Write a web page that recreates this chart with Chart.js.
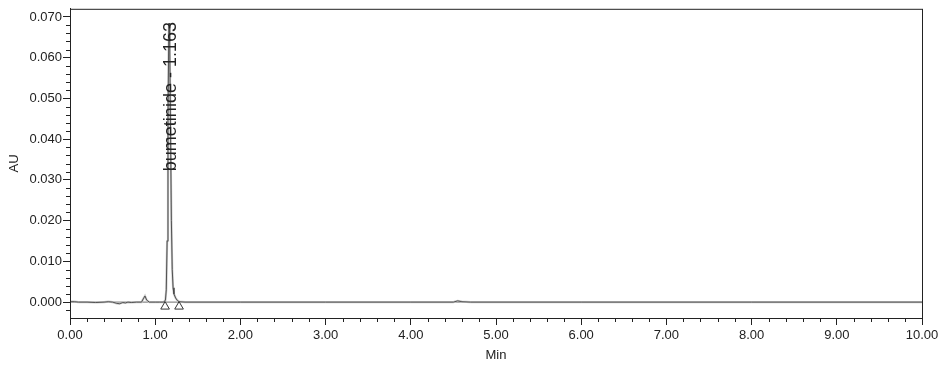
<!DOCTYPE html>
<html>
<head>
<meta charset="utf-8">
<title>bumetinide chromatogram</title>
<script src="https://cdn.jsdelivr.net/npm/chart.js@4"></script>
<style>
  html, body { margin: 0; padding: 0; background: #fff; }
  #wrap { width: 944px; height: 366px; }
</style>
</head>
<body>
<div id="wrap"><canvas id="chart" width="944" height="366"></canvas></div>
<script>
"use strict";

// detector trace (time in min, signal in AU)
var times = [0.00, 0.05, 0.10, 0.20, 0.30, 0.40, 0.45, 0.50, 0.55, 0.58, 0.62, 0.65, 0.68, 0.72, 0.78,
             0.84, 0.86, 0.88, 0.90, 0.93, 1.00, 1.05, 1.10, 1.12, 1.13, 1.14, 1.15, 1.16, 1.163, 1.17,
             1.18, 1.19, 1.20, 1.21, 1.22, 1.24, 1.26, 1.28, 1.35, 2.00, 3.00, 4.00, 4.50, 4.55, 4.60,
             4.70, 6.00, 8.00, 10.00];
var signal = [0.0001, 0.0001, 0.0000, 0.0000, -0.0001, 0.0000, 0.0001, 0.0000, -0.0003, -0.0004, -0.0001, -0.0002, 0.0000, -0.0001, 0.0000,
              0.0000, 0.0008, 0.0015, 0.0005, 0.0000, 0.0000, 0.0000, 0.0000, 0.0005, 0.0030, 0.0150, 0.0450, 0.0670, 0.0685, 0.0640,
              0.0420, 0.0200, 0.0080, 0.0035, 0.0020, 0.0010, 0.0004, 0.0001, 0.0000, 0.0000, 0.0000, 0.0000, 0.0000, 0.0003, 0.0001,
              0.0000, 0.0000, 0.0000, 0.0000];

// integration baseline and peak start/end markers
var baseTimes = [0.00, 10.00];
var baseValues = [0.0000, 0.0000];
var markTimes = [1.116, 1.280];
var markValues = [-0.0011, -0.0011];

// peak annotation
var peakName = "bumetinide";
var peakTime = 1.163;
var peakHeight = 0.0685;

var xMajor = [0, 1, 2, 3, 4, 5, 6, 7, 8, 9, 10];

function toPoints(xs, ys) {
    return xs.map(function (x, i) { return { x: x, y: ys[i] }; });
}

var font = { family: "'Liberation Sans', Arial, sans-serif", size: 13 };

// minor tick marks, frame and peak label
var extras = {
    id: "extras",
    afterDraw: function (chart) {
        var ctx = chart.ctx, xs = chart.scales.x, ys = chart.scales.y;
        var area = chart.chartArea;
        ctx.save();
        ctx.strokeStyle = "#222";
        ctx.lineWidth = 1;
        ctx.beginPath();
        for (var i = 1; i < 50; i++) {
            if (i % 5 === 0) continue;
            var px = Math.round(xs.getPixelForValue(i * 0.2)) + 0.5;
            ctx.moveTo(px, area.bottom);
            ctx.lineTo(px, area.bottom + 4);
        }
        for (var j = -1; j <= 35; j++) {
            if (j % 5 === 0) continue;
            var py = Math.round(ys.getPixelForValue(j * 0.002)) + 0.5;
            ctx.moveTo(area.left, py);
            ctx.lineTo(area.left - 4, py);
        }
        ctx.stroke();

        ctx.strokeRect(area.left + 0.5, area.top + 0.5, area.right - area.left, area.bottom - area.top);

        // rotated label, baseline on the right of the peak
        ctx.translate(xs.getPixelForValue(peakTime) + 7, ys.getPixelForValue(peakHeight) - 1);
        ctx.rotate(-Math.PI / 2);
        ctx.fillStyle = "#222";
        ctx.font = "18px 'Liberation Sans', Arial, sans-serif";
        ctx.textAlign = "right";
        ctx.textBaseline = "alphabetic";
        ctx.fillText(peakName + " - " + peakTime.toFixed(3), 0, 0);
        ctx.restore();
    }
};

// lower order is drawn on top
var chart = new Chart(document.getElementById("chart"), {
    type: "scatter",
    data: {
        datasets: [
            { data: toPoints(baseTimes, baseValues), showLine: true, borderColor: "#8a8a8a", borderWidth: 1.2, pointRadius: 0, order: 4 },
            { data: toPoints(times, signal), showLine: true, borderColor: "#c8c8c8", borderWidth: 2.2, pointRadius: 0, order: 3 },
            { data: toPoints(times, signal), showLine: true, borderColor: "#444", borderWidth: 0.9, pointRadius: 0, order: 2 },
            { data: toPoints(markTimes, markValues), showLine: false, pointStyle: "triangle", pointRadius: 5,
              backgroundColor: "#fff", borderColor: "#333", borderWidth: 1, order: 1 }
        ]
    },
    options: {
        responsive: false,
        animation: false,
        layout: { padding: { top: 8, right: 22, left: 0, bottom: 0 } },
        plugins: { legend: { display: false }, tooltip: { enabled: false } },
        scales: {
            x: {
                type: "linear", min: 0, max: 10,
                border: { color: "#222", width: 1 },
                grid: { drawOnChartArea: false, tickLength: 7, tickColor: "#222" },
                ticks: {
                    stepSize: 1, includeBounds: false, maxRotation: 0, autoSkip: false,
                    color: "#222", font: font, padding: 3,
                    callback: function (v) { return xMajor.indexOf(v) >= 0 ? v.toFixed(2) : ""; }
                },
                title: { display: true, text: "Min", color: "#222", font: font, padding: { top: 0, bottom: 3 } },
                afterFit: function (scale) { scale.height = 48; }
            },
            y: {
                type: "linear", min: -0.0039, max: 0.0720,
                border: { color: "#222", width: 1 },
                grid: { drawOnChartArea: false, tickLength: 7, tickColor: "#222" },
                ticks: {
                    stepSize: 0.01, includeBounds: false, autoSkip: false,
                    color: "#222", font: font, padding: 1,
                    callback: function (v) { return v.toFixed(3); }
                },
                title: { display: true, text: "AU", color: "#222", font: font, padding: { top: 7, bottom: 0 } },
                afterFit: function (scale) { scale.width = 70; }
            }
        }
    },
    plugins: [extras]
});
</script>
</body>
</html>
